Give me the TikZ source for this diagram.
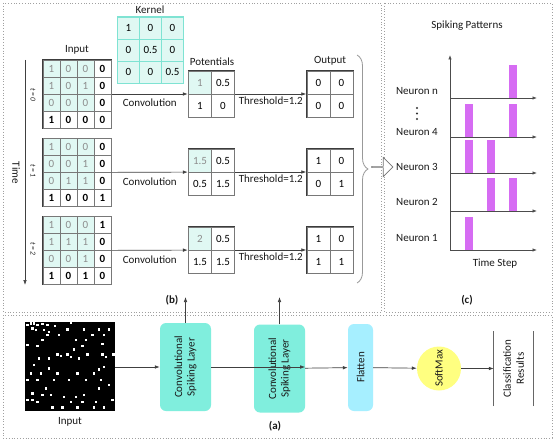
\documentclass[tikz,border=0pt]{standalone}
\usepackage{fontspec}
\setmainfont{Carlito}
\usetikzlibrary{matrix,arrows.meta,shapes.arrows,decorations.pathreplacing,calc}
\definecolor{ltcyan}{HTML}{E0F8F3}
\definecolor{cyanline}{HTML}{7FE3D3}
\definecolor{graytxt}{RGB}{140,140,140}
\definecolor{gridc}{RGB}{120,120,120}
\definecolor{outerc}{RGB}{60,60,60}
\definecolor{convfill}{HTML}{80EEDD}
\definecolor{flatfill}{HTML}{A6EFFF}
\definecolor{smfill}{HTML}{FFFF80}
\definecolor{spikec}{HTML}{D66CF3}
\definecolor{framec}{RGB}{160,160,160}
\tikzset{
  base/.style={font=\fontsize{11}{13}\selectfont, text=black!90},
  frame/.style={draw=framec, dotted, line width=0.8pt},
  conn/.style={draw=black!75, line width=0.7pt, -{Latex[length=5pt,width=3.6pt]}},
  cellbase/.style={draw=gridc, line width=0.5pt, inner sep=0pt, anchor=center,
    text height=7.2pt, text depth=0pt, text=black, font=\fontsize{11}{13}\selectfont},
  cellA/.style={cellbase, minimum size=17pt},
  cellK/.style={cellbase, minimum size=22pt, draw=cyanline, fill=ltcyan},
  cellP/.style={cellbase, minimum size=23pt},
  lt/.style={fill=ltcyan, text=graytxt},
  dk/.style={font=\fontsize{11}{13}\selectfont\bfseries},
  grid/.style={matrix of nodes, ampersand replacement=\&, draw=outerc, line width=0.9pt,
    inner sep=0pt, column sep=-0.5pt, row sep=-0.5pt},
  ingrid/.style={grid, nodes={cellA}},
  kgrid/.style={grid, draw=cyanline, nodes={cellK}},
  pgrid/.style={grid, nodes={cellP}},
  tlab/.style={rotate=-90, font=\fontsize{7.5}{8}\selectfont\itshape},
  layer/.style={draw=none, rounded corners=6pt, minimum width=88pt, minimum height=51pt,
    rotate=90, align=center, font=\fontsize{11}{12.5}\selectfont},
  spike/.style={fill=spikec, draw=none},
  axis/.style={draw=black!70, line width=0.7pt, -{Latex[length=4.5pt,width=3.4pt]}}
}
\begin{document}
\begin{tikzpicture}[x=1pt,y=-1pt,base]
\useasboundingbox (0,0) rectangle (554,441);
\fill[white] (0,0) rectangle (554,441);
% frames
\draw[frame] (3,3) rectangle (381.5,312);
\draw[frame] (384.5,3) rectangle (552,312);
\draw[frame] (3,315) rectangle (552,438);

% ---------- panel (b)
\node (kl) at (150,10) {Kernel};
\matrix (ker) [kgrid] at (150.5,50) {
1 \& 0 \& 0 \\
0 \& 0.5 \& 0 \\
0 \& 0 \& 0.5 \\
};
\node (inl) at (77,50) {Input};
\node (potl) at (212,62) {Potentials};
\node (outl) at (330,61) {Output};

% t=0
\matrix (in0) [ingrid] at (77,94) {
|[lt]| 1 \& |[lt]| 0 \& |[lt]| 0 \& |[dk]| 0 \\
|[lt]| 1 \& |[lt]| 0 \& |[lt]| 1 \& |[dk]| 0 \\
|[lt]| 0 \& |[lt]| 0 \& |[lt]| 0 \& |[dk]| 0 \\
|[dk]| 1 \& |[dk]| 0 \& |[dk]| 0 \& |[dk]| 0 \\
};
\matrix (pot0) [pgrid] at (211.5,94) {
|[lt]| 1 \& 0.5 \\
1 \& 0 \\
};
\matrix (out0) [pgrid] at (330,94) {
0 \& 0 \\
0 \& 0 \\
};
% t=1
\matrix (in1) [ingrid] at (77,172.5) {
|[lt]| 1 \& |[lt]| 0 \& |[lt]| 0 \& |[dk]| 0 \\
|[lt]| 0 \& |[lt]| 0 \& |[lt]| 1 \& |[dk]| 0 \\
|[lt]| 0 \& |[lt]| 1 \& |[lt]| 1 \& |[dk]| 0 \\
|[dk]| 1 \& |[dk]| 0 \& |[dk]| 0 \& |[dk]| 1 \\
};
\matrix (pot1) [pgrid] at (211.5,172) {
|[lt]| 1.5 \& 0.5 \\
0.5 \& 1.5 \\
};
\matrix (out1) [pgrid] at (330,172) {
1 \& 0 \\
0 \& 1 \\
};
% t=2
\matrix (in2) [ingrid] at (77,250.5) {
|[lt]| 1 \& |[lt]| 0 \& |[lt]| 0 \& |[dk]| 1 \\
|[lt]| 1 \& |[lt]| 1 \& |[lt]| 1 \& |[dk]| 0 \\
|[lt]| 0 \& |[lt]| 0 \& |[lt]| 1 \& |[dk]| 0 \\
|[dk]| 1 \& |[dk]| 0 \& |[dk]| 1 \& |[dk]| 0 \\
};
\matrix (pot2) [pgrid] at (211.5,250) {
|[lt]| 2 \& 0.5 \\
1.5 \& 1.5 \\
};
\matrix (out2) [pgrid] at (330,250) {
1 \& 0 \\
1 \& 1 \\
};

\foreach \i in {0,1,2}{
  \draw[conn] (in\i) -- node[below=1.5pt] {Convolution} (pot\i);
  \draw[conn] (pot\i) -- node[below=1.5pt, inner sep=1pt] {Threshold=1.2} (out\i);
}

% time axis
\coordinate (ttop) at (25,60);
\coordinate (tbot) at (25,285);
\draw[conn] (ttop) -- (tbot);
\node[rotate=-90] (timel) at (16,173) {Time};
\node[tlab] (t0) at (33,95) {t = 0};
\node[tlab] (t1) at (33,171) {t = 1};
\node[tlab] (t2) at (33,249) {t = 2};

% brace and block arrow
\coordinate (bt) at (357,55);
\coordinate (bb) at (357,283);
\draw[draw=black!40, line width=0.8pt, decorate, decoration={brace, amplitude=11pt}] (bt) -- (bb);
\node[single arrow, draw=black!55, fill=white, line width=0.7pt, inner sep=0pt,
      minimum height=21pt, minimum width=19pt, single arrow head extend=5pt] (blk) at (382,167) {};

\node[font=\fontsize{11}{13}\selectfont\bfseries] (bl) at (172,300) {(b)};

% ---------- panel (c)
\node (spl) at (467,26) {Spiking Patterns};
\coordinate (o1) at (450,250);
\coordinate (ytop) at (450,55);
\draw[axis] (o1) -- (ytop);
\foreach \n/\y in {1/250,2/211,3/173,4/137,5/98}{
  \coordinate (a\n) at (450,\y);
  \coordinate (e\n) at (537,\y);
  \draw[axis] (a\n) -- (e\n);
}
% spikes
\fill[spike] (509,65) rectangle (517,98);
\fill[spike] (465,104) rectangle (473,137);
\fill[spike] (509,104) rectangle (517,137);
\fill[spike] (465,140) rectangle (473,173);
\fill[spike] (487,140) rectangle (495,173);
\fill[spike] (487,178) rectangle (495,211);
\fill[spike] (509,178) rectangle (517,211);
\fill[spike] (465,217) rectangle (473,250);
\node (nn) at (417,91) {Neuron n};
\node (n4) at (417,132) {Neuron 4};
\node (n3) at (417,167) {Neuron 3};
\node (n2) at (417,202) {Neuron 2};
\node (n1) at (417,238) {Neuron 1};
\foreach \y in {108,113.5,119}{ \fill[black!80] (417,\y) circle (1.2pt); }
\node (tsl) at (495,264) {Time Step};
\node[font=\fontsize{11}{13}\selectfont\bfseries] (cl) at (467,300) {(c)};

% ---------- panel (a)
\node[fill=black, minimum width=90pt, minimum height=89pt, inner sep=0pt] (img) at (70,366.5) {};
\begin{scope}[shift={(24,320)}, x=0.33333pt, y=-0.33333pt]
\foreach \px/\py in {10/15,20/10,30/10,40/15,55/12,70/15,35/30,25/25,60/30,75/35,70/45,105/45,
  92/18,140/8,130/28,180/28,225/28,255/28,55/60,155/60,185/60,205/45,240/45,
  10/75,40/78,175/78,235/72,150/88,100/103,110/108,130/103,140/110,190/103,235/103,245/110,268/103,
  45/115,75/115,165/115,30/135,240/140,20/160,50/160,75/145,100/160,160/160,210/160,225/148,
  10/180,40/180,90/180,135/180,185/180,230/180,255/195,65/205,225/205,
  25/220,55/225,80/225,120/230,155/230,180/225,10/240,25/240,40/245,140/245,175/245,215/245,265/240,
  85/262,115/262,160/262,210/262,240/262}{
  \fill[white] (\px-3.5,\py-3.5) rectangle (\px+3.5,\py+3.5);
}
\end{scope}
\node (imgl) at (70,422) {Input};

\node[layer, fill=convfill] (c1) at (185.5,367) {Convolutional\\Spiking Layer};
\node[layer, fill=convfill] (c2) at (279.5,368.5) {Convolutional\\Spiking Layer};
\node[layer, fill=flatfill, minimum height=25pt, minimum width=87pt] (fl) at (360.5,367.5) {Flatten};
\node[circle, fill=smfill, minimum size=44pt, inner sep=0pt, rotate=90] (sm) at (439,368.5) {SoftMax};
\node[rotate=90, minimum width=75pt, minimum height=39pt, align=center, inner sep=0pt] (cls) at (513.5,368.5) {Classification\\Results};
\draw[black!60, line width=0.9pt] (cls.north west) -- (cls.north east);
\draw[black!60, line width=0.9pt] (cls.south west) -- (cls.south east);

\draw[conn] (img.east |- c1.center) -- (c1);
\draw[conn] (c1) -- (c1 -| c2.south);
\draw[conn] (c2) -- (fl);
\draw[conn] (fl) -- (sm);
\draw[conn] (sm) -- (cls);

\coordinate (up1) at (185.5,297);
\coordinate (up2) at (279.5,297);
\draw[conn] (c1.east) -- (up1);
\draw[conn] (c2.east) -- (up2);

\node[font=\fontsize{11}{13}\selectfont\bfseries] (al) at (275,426) {(a)};
\end{tikzpicture}
\end{document}
